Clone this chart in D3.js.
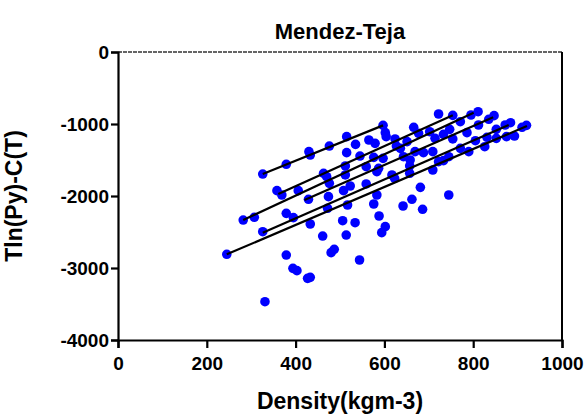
<!DOCTYPE html>
<html lang="en">
<head>
<meta charset="UTF-8">
<title>Mendez-Teja</title>
<script src="https://d3js.org/d3.v7.min.js"></script>
<style>
  body { margin: 0; background: #fff; }
  text { font-family: "Liberation Sans", Arial, sans-serif; font-weight: bold; }
</style>
</head>
<body>
<div id="chart"></div>
<script>
// density (kg m-3) of each measured point
const density = [722, 754, 795, 811, 835, 847, 666, 677, 702, 714, 733, 747, 754, 771, 786, 812, 831, 852, 852, 872,
  884, 875, 893, 910, 920, 805, 826, 790, 771, 745, 733, 722, 709, 709, 688, 669, 657, 658, 651, 643,
  636, 627, 624, 617, 623, 657, 597, 602, 604, 565, 579, 535, 515, 515, 545, 576, 597, 587, 559, 512,
  512, 583, 523, 508, 559, 583, 576, 517, 588, 602, 594, 506, 534, 514, 544, 326, 379, 430, 433, 476,
  463, 470, 476, 474, 472, 358, 369, 406, 429, 282, 307, 379, 395, 433, 326, 461, 487, 480, 245, 379,
  394, 403, 427, 433, 331, 681, 662, 642, 686, 745];
// T ln(P y) - C(T) of each measured point
const mtValue = [-861, -880, -875, -829, -935, -884, -1046, -1130, -1107, -1199, -1144, -1074, -1208, -968, -1120, -1014, -1185, -1074, -1199, -1014,
  -982, -1176, -1167, -1046, -1019, -1232, -1315, -1384, -1338, -1454, -1509, -1523, -1384, -1639, -1398, -1384, -1583, -1500, -1245, -1454,
  -1338, -1306, -1208, -1708, -1755, -1685, -1019, -1120, -1176, -1222, -1269, -1283, -1176, -1398, -1445, -1463, -1477, -1616, -1593, -1583,
  -1708, -1662, -1861, -1926, -1833, -1986, -2111, -2125, -2278, -2426, -2509, -2343, -2371, -2542, -2889, -1695, -1560, -1384, -1431, -1306,
  -1685, -1732, -1824, -2009, -2171, -1926, -1986, -1926, -2046, -2334, -2296, -2241, -2301, -2389, -2496, -2556, -2741, -2787, -2810, -2820,
  -3005, -3037, -3144, -3130, -3468, -1880, -2046, -2139, -2185, -1986];

// fitted isotherm lines: start and end points
const lineX1 = [326, 361, 282, 420, 326, 245];
const lineY1 = [-1694, -1972, -2333, -2056, -2509, -2810];
const lineX2 = [597, 754, 801, 845, 880, 921];
const lineY2 = [-1019, -880, -843, -907, -1014, -1028];

const xTicks = [0, 200, 400, 600, 800, 1000];
const yTicks = [0, -1000, -2000, -3000, -4000];

const W = 587, H = 415;
const margin = {top: 52, right: 25, bottom: 75, left: 118};
const width = W - margin.left - margin.right,
      height = H - margin.top - margin.bottom;

const svg = d3.select("#chart").append("svg")
    .attr("width", W)
    .attr("height", H);

const g = svg.append("g")
    .attr("transform", `translate(${margin.left},${margin.top})`);

const x = d3.scaleLinear().domain([0, 1000]).range([0, width]);
const y = d3.scaleLinear().domain([-4000, 0]).range([height, 0]);

// frame: top and right edges
g.append("line")
    .attr("x1", 0).attr("x2", width).attr("y1", 0).attr("y2", 0)
    .attr("stroke", "#333").attr("stroke-width", 1.5)
    .attr("stroke-dasharray", "4,1");
g.append("line")
    .attr("x1", width).attr("x2", width).attr("y1", 0).attr("y2", height)
    .attr("stroke", "#000").attr("stroke-width", 2);

// axes
const xAxis = g.append("g")
    .attr("transform", `translate(0,${height})`)
    .call(d3.axisBottom(x).tickValues(xTicks).tickSize(8).tickPadding(9).tickFormat(d => String(d)));
const yAxis = g.append("g")
    .call(d3.axisLeft(y).tickValues(yTicks).tickSize(7).tickPadding(2).tickFormat(d => String(d)));

[xAxis, yAxis].forEach(a => {
  a.select(".domain").attr("stroke", "#000").attr("stroke-width", 2.2);
  a.selectAll(".tick line").attr("stroke", "#000").attr("stroke-width", 2.2);
  a.selectAll(".tick text")
    .attr("fill", "#000")
    .style("font-size", "19px")
    .style("font-family", "'Liberation Sans', Arial, sans-serif")
    .style("font-weight", "bold");
});

// points
g.append("g").selectAll("circle")
  .data(density.map((d, i) => [d, mtValue[i]]))
  .join("circle")
    .attr("cx", d => x(d[0]))
    .attr("cy", d => y(d[1]))
    .attr("r", 4.8)
    .attr("fill", "#0000ff");

// fit lines
g.append("g").selectAll("line")
  .data(lineX1.map((d, i) => i))
  .join("line")
    .attr("x1", i => x(lineX1[i]))
    .attr("y1", i => y(lineY1[i]))
    .attr("x2", i => x(lineX2[i]))
    .attr("y2", i => y(lineY2[i]))
    .attr("stroke", "#000")
    .attr("stroke-width", 2.2);

// titles
svg.append("text")
    .attr("x", margin.left + width / 2)
    .attr("y", 39)
    .attr("text-anchor", "middle")
    .style("font-size", "22px")
    .text("Mendez-Teja");

svg.append("text")
    .attr("x", margin.left + width / 2)
    .attr("y", 409)
    .attr("text-anchor", "middle")
    .style("font-size", "23px")
    .text("Density(kgm-3)");

svg.append("text")
    .attr("transform", `translate(22,${margin.top + height / 2}) rotate(-90)`)
    .attr("text-anchor", "middle")
    .style("font-size", "23px")
    .text("Tln(Py)-C(T)");
</script>
</body>
</html>
